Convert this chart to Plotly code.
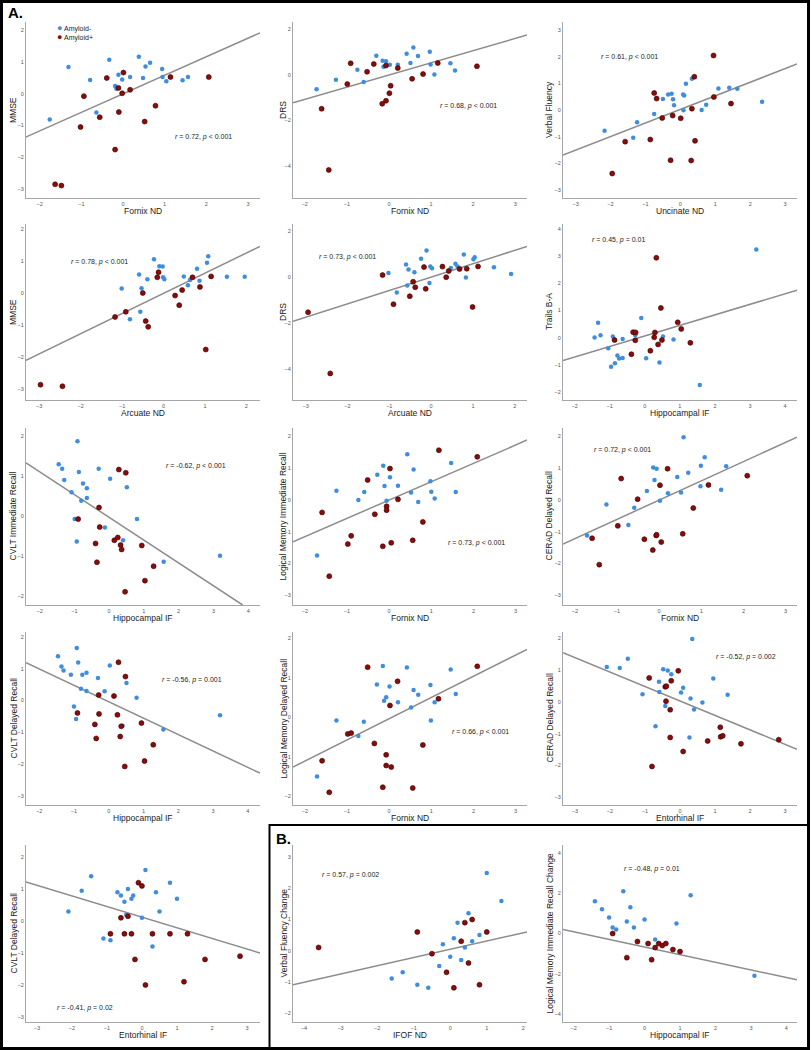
import plotly.graph_objects as go

W, H = 811, 1050
BLUE = '#3f8ddd'
RED = '#8a0b0b'
LINE = '#8c8c8c'
FONT = 'Liberation Sans, Arial, sans-serif'

# ---------------- data ----------------
# Panel 1: MMSE vs Fornix ND
P1_NEG_X = [-1.76, -1.31, -0.79, -0.64, -0.33, -0.19, -0.16, -0.11, -0.02, 0.17, 0.38, 0.48, 0.54, 0.65, 0.94, 0.95, 1.04, 1.43, 1.56]
P1_NEG_Y = [-0.81, 0.84, 0.43, -0.59, 1.06, 0.24, 0.15, 0.59, 0.44, 0.52, 1.16, 0.49, 0.85, 0.97, 0.77, 0.52, 0.39, 0.42, 0.52]
P1_POS_X = [-1.63, -1.48, -1.02, -0.94, -0.56, -0.39, -0.19, -0.11, -0.10, -0.02, 0.01, 0.17, 0.52, 0.78, 1.14, 2.06]
P1_POS_Y = [-2.85, -2.89, -1.05, -0.08, -0.74, 0.49, -1.76, 0.18, -0.58, 0.01, 0.66, 0.12, -0.88, -0.38, 0.52, 0.52]
P1_FIT_X = [-2.34, 3.29]
P1_FIT_Y = [-1.37, 1.91]

# Panel 2: DRS vs Fornix ND
P2_NEG_X = [-1.72, -1.26, -0.75, -0.60, -0.30, -0.15, -0.13, -0.07, 0.02, 0.21, 0.42, 0.51, 0.58, 0.69, 0.97, 0.99, 1.08, 1.46, 1.57]
P2_NEG_Y = [-0.64, -0.22, 0.22, -0.32, 0.83, 0.61, 0.35, 0.59, 0.44, 0.44, 0.92, 0.51, 1.19, 0.82, 1.01, 0.45, 0.01, 0.50, 0.18]
P2_POS_X = [-1.60, -1.43, -0.99, -0.91, -0.52, -0.36, -0.16, -0.07, -0.07, 0.01, 0.04, 0.21, 0.55, 0.81, 1.16, 2.09]
P2_POS_Y = [-1.49, -4.17, -0.41, 0.50, 0.13, 0.47, -1.27, -1.14, 0.40, -0.81, -0.48, 0.29, -0.18, 0.03, 0.51, 0.37]
P2_FIT_X = [-2.28, 3.28]
P2_FIT_Y = [-1.23, 1.74]

# Panel 3: Verbal Fluency vs Uncinate ND
P3_NEG_X = [-2.17, -1.35, -1.24, -0.75, -0.50, -0.35, -0.25, -0.21, -0.18, 0.08, 0.11, 0.09, 0.16, 0.33, 0.61, 0.74, 1.09, 1.40, 1.63, 2.34]
P3_NEG_Y = [-0.78, -1.04, -0.46, -0.15, 0.41, 0.58, 0.61, 0.40, 0.18, 0.58, 0.55, -0.01, 0.99, 1.18, 0.00, 0.20, 0.81, 0.84, 0.80, 0.31]
P3_POS_X = [-1.95, -1.58, -0.86, -0.75, -0.68, -0.52, -0.28, -0.22, 0.01, 0.31, 0.33, 0.40, 0.42, 0.95, 0.96, 1.45]
P3_POS_Y = [-2.39, -1.19, -1.11, 0.64, 0.43, -0.30, -1.89, -0.21, -0.31, -1.90, 0.05, 1.25, -1.16, 2.05, 0.49, 0.24]
P3_FIT_X = [-3.36, 3.34]
P3_FIT_Y = [-1.69, 1.73]

# Panel 4: MMSE vs Arcuate ND
P4_NEG_X = [-1.01, -0.81, -0.59, -0.56, -0.53, -0.39, -0.23, -0.10, -0.02, -0.01, 0.02, 0.49, 0.59, 0.64, 0.81, 0.87, 1.05, 1.08, 1.53, 1.96]
P4_NEG_Y = [0.14, -0.82, 0.58, -0.59, 0.15, 0.43, 1.06, 0.84, 0.83, 0.49, 0.43, 0.52, 0.24, 0.41, 0.76, 0.38, 0.95, 1.15, 0.51, 0.51]
P4_POS_X = [-2.97, -2.44, -1.17, -0.91, -0.50, -0.43, -0.37, -0.15, -0.12, 0.28, 0.38, 0.45, 0.70, 0.88, 1.02, 1.15]
P4_POS_Y = [-2.87, -2.92, -0.75, -0.59, 0.00, -0.88, -1.06, 0.49, 0.65, -0.08, -0.38, 0.09, 0.49, 0.19, -1.77, 0.52]
P4_FIT_X = [-3.32, 2.33]
P4_FIT_Y = [-2.11, 1.46]

# Panel 5: DRS vs Arcuate ND
P5_NEG_X = [-1.02, -0.82, -0.60, -0.57, -0.54, -0.40, -0.24, -0.11, -0.04, -0.02, 0.02, 0.47, 0.58, 0.63, 0.78, 0.83, 1.01, 1.04, 1.50, 1.91]
P5_NEG_Y = [0.19, -0.66, 0.56, -0.35, 0.34, 0.22, 0.81, 1.17, -0.25, 0.48, 0.40, 0.41, 0.60, 0.47, 1.00, 0.00, 0.79, 0.88, 0.44, 0.15]
P5_POS_X = [-2.94, -2.41, -1.16, -0.90, -0.51, -0.43, -0.38, -0.17, -0.13, 0.27, 0.36, 0.42, 0.68, 0.85, 0.99, 1.12]
P5_POS_Y = [-1.52, -4.19, 0.10, -1.17, -0.82, -0.19, -0.43, 0.45, -0.50, 0.47, 0.01, 0.28, 0.37, 0.38, -1.29, 0.48]
P5_FIT_X = [-3.30, 2.29]
P5_FIT_Y = [-1.92, 1.35]

# Panel 6: Trails B-A vs Hippocampal IF
P6_NEG_X = [-1.43, -1.33, -1.26, -1.04, -0.96, -0.91, -0.85, -0.78, -0.73, -0.63, -0.63, -0.27, -0.10, 0.04, 0.42, 0.52, 0.82, 1.57, 3.18]
P6_NEG_Y = [0.00, 0.55, 0.09, -0.39, -1.07, 0.04, -0.94, -0.66, -0.77, -0.75, -0.05, 0.09, 0.72, -0.76, -0.91, 0.04, -0.07, -1.74, 3.23]
P6_POS_X = [-0.86, -0.38, -0.33, -0.26, -0.27, 0.16, 0.27, 0.29, 0.33, 0.38, 0.46, 0.49, 0.94, 1.04, 1.30]
P6_POS_Y = [-0.09, -0.61, 0.20, 0.19, -0.10, -0.48, 0.01, 0.19, 2.93, -0.25, 1.09, -0.09, 0.56, 0.32, -0.19]
P6_FIT_X = [-2.33, 4.34]
P6_FIT_Y = [-0.84, 1.74]

# Panel 7: CVLT Immediate Recall vs Hippocampal IF
P7_NEG_X = [-1.45, -1.35, -1.29, -1.08, -0.99, -0.93, -0.91, -0.87, -0.80, -0.75, -0.64, -0.64, -0.30, -0.12, 0.03, 0.40, 0.51, 0.80, 1.57, 3.19]
P7_NEG_Y = [1.29, 1.18, 0.90, 0.59, -0.08, -0.64, 1.87, 1.10, 0.38, 0.81, 0.69, 0.45, 1.18, -0.29, 0.93, -0.61, 0.72, -0.08, -1.15, -1.00]
P7_POS_X = [-0.89, -0.39, -0.35, -0.29, -0.27, 0.15, 0.25, 0.28, 0.33, 0.36, 0.46, 0.48, 0.94, 1.03, 1.28]
P7_POS_Y = [-0.08, -0.69, -1.16, 0.21, -0.28, -0.61, -0.54, 1.16, -0.73, -0.84, -1.90, 1.08, -0.74, -1.62, -1.26]
P7_FIT_X = [-2.39, 3.84]
P7_FIT_Y = [1.33, -2.23]

# Panel 8: Logical Memory Immediate Recall vs Fornix ND
P8_NEG_X = [-1.71, -1.25, -0.73, -0.59, -0.28, -0.14, -0.11, -0.06, 0.02, 0.21, 0.43, 0.52, 0.58, 0.69, 0.98, 1.00, 1.08, 1.47, 1.58]
P8_NEG_Y = [-1.75, 0.29, 0.00, 0.25, 0.80, 1.08, 0.44, -0.02, 0.72, 0.45, 1.44, 0.24, 0.96, -0.06, 0.59, 0.26, 0.05, 1.17, 0.25]
P8_POS_X = [-1.59, -1.42, -0.98, -0.90, -0.51, -0.34, -0.15, -0.06, -0.06, 0.02, 0.05, 0.21, 0.56, 0.80, 1.18, 2.09]
P8_POS_Y = [-0.39, -2.40, -1.39, -1.13, 0.63, -0.45, -1.46, -0.20, -0.32, 0.99, -1.35, 0.02, -1.27, -0.69, 1.57, 1.36]
P8_FIT_X = [-2.28, 3.27]
P8_FIT_Y = [-1.32, 1.89]

# Panel 9: CERAD Delayed Recall vs Fornix ND
P9_NEG_X = [-1.71, -1.25, -0.73, -0.59, -0.29, -0.14, -0.11, -0.06, 0.02, 0.21, 0.43, 0.52, 0.58, 0.69, 0.98, 0.99, 1.08, 1.47, 1.59]
P9_NEG_Y = [-1.12, -0.15, -0.79, -0.25, 0.28, 1.02, 0.62, 0.98, -0.03, 0.21, 0.72, 0.23, 1.97, 0.85, 0.43, 1.07, 1.34, 0.32, 1.06]
P9_POS_X = [-1.59, -1.42, -0.98, -0.90, -0.51, -0.35, -0.15, -0.07, -0.06, 0.02, 0.05, 0.20, 0.56, 0.81, 1.17, 2.09]
P9_POS_Y = [-1.21, -2.04, -0.82, 0.67, 0.02, -1.24, -1.58, -1.12, -1.10, 0.46, -1.33, 0.98, -1.07, -0.26, 0.47, 0.76]
P9_FIT_X = [-2.28, 3.27]
P9_FIT_Y = [-1.39, 1.97]

# Panel 10: CVLT Delayed Recall vs Hippocampal IF
P10_NEG_X = [-1.46, -1.36, -1.30, -1.09, -1.00, -0.94, -0.92, -0.88, -0.80, -0.76, -0.64, -0.64, -0.31, -0.12, 0.03, 0.40, 0.51, 0.80, 1.57, 3.20]
P10_NEG_Y = [1.39, 1.07, 0.94, 0.81, -0.19, -0.58, 1.65, 1.19, 0.37, 0.81, 0.87, 0.30, 0.71, 0.29, 1.10, -0.79, 0.55, 0.09, -0.91, -0.46]
P10_POS_X = [-0.90, -0.40, -0.36, -0.29, -0.28, 0.15, 0.25, 0.28, 0.33, 0.36, 0.46, 0.48, 0.94, 1.03, 1.28]
P10_POS_Y = [-0.39, -0.75, -1.19, 0.17, -0.42, 0.14, -0.45, 1.20, -1.13, -0.81, -2.07, 0.75, -0.71, -1.90, -1.39]
P10_FIT_X = [-2.38, 4.35]
P10_FIT_Y = [1.19, -2.28]

# Panel 11: Logical Memory Delayed Recall vs Fornix ND
P11_NEG_X = [-1.71, -1.25, -0.73, -0.60, -0.29, -0.15, -0.12, -0.07, 0.01, 0.21, 0.42, 0.52, 0.58, 0.69, 0.98, 0.99, 1.08, 1.46, 1.58]
P11_NEG_Y = [-1.50, -0.08, -0.47, -0.11, 0.83, 1.30, 0.42, 0.51, 0.78, 0.38, 1.26, 0.25, 0.69, 0.57, 0.82, -0.08, 0.38, 1.21, 0.59]
P11_POS_X = [-1.59, -1.42, -0.98, -0.90, -0.51, -0.35, -0.15, -0.07, -0.07, 0.02, 0.05, 0.20, 0.56, 0.80, 1.17, 2.09]
P11_POS_Y = [-1.10, -1.90, -0.42, -0.40, 1.27, -0.66, -1.77, -0.95, -1.22, 0.30, -1.26, 0.91, -1.79, -0.70, 0.47, 1.29]
P11_FIT_X = [-2.28, 3.27]
P11_FIT_Y = [-1.26, 1.72]

# Panel 12: CERAD Delayed Recall vs Entorhinal IF
P12_NEG_X = [-2.09, -1.72, -1.49, -1.07, -0.70, -0.60, -0.59, -0.48, -0.42, -0.35, -0.25, 0.03, 0.09, 0.27, 0.30, 0.35, 0.40, 0.64, 0.95, 1.36]
P12_NEG_Y = [1.09, 1.06, 1.35, 0.24, -0.77, 0.63, 0.31, 1.02, -0.13, 0.98, 0.86, 0.29, 0.44, -1.12, 0.10, 1.97, -0.24, -0.02, 0.73, 0.22]
P12_POS_X = [-0.88, -0.80, -0.42, -0.39, -0.40, -0.28, -0.28, -0.25, -0.05, 0.09, 0.79, 1.15, 1.16, 1.22, 1.74, 2.82]
P12_POS_Y = [0.75, -2.03, 0.47, 0.49, 0.02, -0.25, -1.12, 0.66, 0.97, -1.56, -1.23, -0.80, -1.10, -1.07, -1.32, -1.19]
P12_FIT_X = [-3.34, 3.34]
P12_FIT_Y = [1.54, -1.49]

# Panel 13: CVLT Delayed Recall vs Entorhinal IF
P13_NEG_X = [-2.10, -1.72, -1.45, -1.10, -0.90, -0.70, -0.60, -0.50, -0.45, -0.40, -0.30, -0.25, 0.00, 0.10, 0.30, 0.40, 0.50, 0.80, 1.00]
P13_NEG_Y = [0.30, 0.95, 1.40, -0.55, -0.60, 0.90, 0.80, 0.60, 0.20, 1.00, 0.70, 0.80, 0.10, 1.60, -0.80, 0.90, 0.30, 1.20, 0.70]
P13_POS_X = [-0.90, -0.60, -0.50, -0.40, -0.30, -0.20, -0.10, 0.00, 0.10, 0.30, 0.80, 1.20, 1.30, 1.80, 2.80]
P13_POS_Y = [-0.40, 0.10, -0.40, 0.15, -0.40, -1.20, 1.20, 1.10, -2.00, -0.40, -0.40, -1.90, -0.40, -1.20, -1.10]
P13_FIT_X = [-3.31, 3.37]
P13_FIT_Y = [1.22, -1.00]

# Panel 14 (B): Verbal Fluency Change vs IFOF ND
P14_NEG_X = [-1.6, -1.3, -0.9, -0.6, -0.3, -0.2, 0.0, 0.1, 0.2, 0.3, 0.4, 0.5, 0.6, 0.8, 1.0, 1.4]
P14_NEG_Y = [-0.9, -0.7, -1.1, -1.2, -0.5, 0.2, -0.2, 0.4, 0.9, -0.3, 0.1, 1.2, 0.3, 0.5, 2.5, 1.6]
P14_POS_X = [-3.6, -0.9, -0.5, -0.1, 0.1, 0.3, 0.4, 0.5, 0.6, 0.8, 1.0]
P14_POS_Y = [0.1, 0.6, -0.1, -0.7, -1.2, 0.3, 0.9, -0.4, 1.0, -1.1, 0.6]
P14_FIT_X = [-4.3, 2.1]
P14_FIT_Y = [-1.1, 0.6]

# Panel 15 (B): Logical Memory Immediate Recall Change vs Hippocampal IF
P15_NEG_X = [-1.4, -1.2, -1.0, -0.9, -0.8, -0.6, -0.5, -0.4, -0.3, 0.0, 0.3, 0.9, 1.3, 3.1]
P15_NEG_Y = [1.6, 1.2, 0.8, 0.3, 0.2, 2.1, 0.6, 1.3, 0.3, 0.7, -0.3, 0.5, 1.9, -2.1]
P15_POS_X = [-0.9, -0.5, -0.2, 0.1, 0.2, 0.3, 0.4, 0.5, 0.6, 0.8, 1.0]
P15_POS_Y = [0.0, -1.2, -0.4, -0.5, -1.3, -0.7, -0.5, -0.6, -0.5, -0.8, -0.9]
P15_FIT_X = [-2.3, 4.3]
P15_FIT_Y = [0.2, -2.3]

X_TITLES = ['Fornix ND', 'Fornix ND', 'Uncinate ND',
            'Arcuate ND', 'Arcuate ND', 'Hippocampal IF',
            'Hippocampal IF', 'Fornix ND', 'Fornix ND',
            'Hippocampal IF', 'Fornix ND', 'Entorhinal IF',
            'Entorhinal IF', 'IFOF ND', 'Hippocampal IF']
Y_TITLES = ['MMSE', 'DRS', 'Verbal Fluency',
            'MMSE', 'DRS', 'Trails B-A',
            'CVLT Immediate Recall', 'Logical Memory Immediate Recall', 'CERAD Delayed Recall',
            'CVLT Delayed Recall', 'Logical Memory Delayed Recall', 'CERAD Delayed Recall',
            'CVLT Delayed Recall', 'Verbal Fluency Change', 'Logical Memory Immediate Recall Change']
STATS = ['r = 0.72, p < 0.001', 'r = 0.68, p < 0.001', 'r = 0.61, p < 0.001',
         'r = 0.78, p < 0.001', 'r = 0.73, p < 0.001', 'r = 0.45, p = 0.01',
         'r = -0.62, p < 0.001', 'r = 0.73, p < 0.001', 'r = 0.72, p < 0.001',
         'r = -0.56, p = 0.001', 'r = 0.66, p < 0.001', 'r = -0.52, p = 0.002',
         'r = -0.41, p = 0.02', 'r = 0.57, p = 0.002', 'r = -0.48, p = 0.01']
STAT_X = [1.19, 1.17, -2.34, -2.29, -2.73, -1.57, 1.57, 1.34, -1.59, 1.46, 1.44, 0.98, -2.49, -3.56, -0.64]
STAT_Y = [-1.37, -1.35, 1.98, 0.98, 0.87, 3.58, 1.25, -1.34, 1.58, 0.64, -0.38, 1.42, -2.72, 2.44, 3.2]

X_TICKS = [[-2, -1, 0, 1, 2, 3], [-2, -1, 0, 1, 2, 3], [-3, -2, -1, 0, 1, 2, 3],
           [-3, -2, -1, 0, 1, 2], [-3, -2, -1, 0, 1, 2], [-2, -1, 0, 1, 2, 3, 4],
           [-2, -1, 0, 1, 2, 3, 4], [-2, -1, 0, 1, 2, 3], [-2, -1, 0, 1, 2, 3],
           [-2, -1, 0, 1, 2, 3, 4], [-2, -1, 0, 1, 2, 3], [-3, -2, -1, 0, 1, 2, 3],
           [-3, -2, -1, 0, 1, 2, 3], [-4, -3, -2, -1, 0, 1, 2], [-2, -1, 0, 1, 2, 3, 4]]
Y_TICKS = [[-3, -2, -1, 0, 1, 2], [-4, -2, 0, 2], [-3, -2, -1, 0, 1, 2, 3],
           [-3, -2, -1, 0, 1, 2], [-4, -2, 0, 2], [-2, -1, 0, 1, 2, 3, 4],
           [-2, -1, 0, 1, 2], [-3, -2, -1, 0, 1, 2], [-3, -2, -1, 0, 1, 2],
           [-3, -2, -1, 0, 1, 2], [-2, -1, 0, 1, 2], [-3, -2, -1, 0, 1, 2],
           [-3, -2, -1, 0, 1, 2], [-2, -1, 0, 1, 2, 3], [-4, -2, 0, 2, 4]]

# ---------------- layout (pixel geometry) ----------------
X_RANGES = [[-2.33, 3.29], [-2.28, 3.28], [-3.36, 3.34],
            [-3.32, 2.33], [-3.30, 2.29], [-2.33, 4.34],
            [-2.39, 4.34], [-2.28, 3.27], [-2.28, 3.27],
            [-2.38, 4.35], [-2.28, 3.27], [-3.34, 3.34],
            [-3.31, 3.37], [-4.3, 2.1], [-2.3, 4.3]]
Y_RANGES = [[-3.28, 2.25], [-5.4, 2.31], [-3.31, 3.31],
            [-3.35, 2.16], [-5.35, 2.33], [-2.29, 4.17],
            [-2.23, 2.2], [-3.31, 2.27], [-3.31, 2.26],
            [-3.28, 2.15], [-2.22, 2.16], [-3.24, 2.19],
            [-3.16, 2.38], [-2.3, 3.4], [-4.4, 4.4]]
COLS = [(26, 260), (293, 527), (563, 797)]
ROWS = [(22, 198), (224, 400), (428, 605), (632, 805), (845, 1022)]
YT_OFF = [13, 10, 14]

data = [
    (P1_NEG_X, P1_NEG_Y, P1_POS_X, P1_POS_Y, P1_FIT_X, P1_FIT_Y),
    (P2_NEG_X, P2_NEG_Y, P2_POS_X, P2_POS_Y, P2_FIT_X, P2_FIT_Y),
    (P3_NEG_X, P3_NEG_Y, P3_POS_X, P3_POS_Y, P3_FIT_X, P3_FIT_Y),
    (P4_NEG_X, P4_NEG_Y, P4_POS_X, P4_POS_Y, P4_FIT_X, P4_FIT_Y),
    (P5_NEG_X, P5_NEG_Y, P5_POS_X, P5_POS_Y, P5_FIT_X, P5_FIT_Y),
    (P6_NEG_X, P6_NEG_Y, P6_POS_X, P6_POS_Y, P6_FIT_X, P6_FIT_Y),
    (P7_NEG_X, P7_NEG_Y, P7_POS_X, P7_POS_Y, P7_FIT_X, P7_FIT_Y),
    (P8_NEG_X, P8_NEG_Y, P8_POS_X, P8_POS_Y, P8_FIT_X, P8_FIT_Y),
    (P9_NEG_X, P9_NEG_Y, P9_POS_X, P9_POS_Y, P9_FIT_X, P9_FIT_Y),
    (P10_NEG_X, P10_NEG_Y, P10_POS_X, P10_POS_Y, P10_FIT_X, P10_FIT_Y),
    (P11_NEG_X, P11_NEG_Y, P11_POS_X, P11_POS_Y, P11_FIT_X, P11_FIT_Y),
    (P12_NEG_X, P12_NEG_Y, P12_POS_X, P12_POS_Y, P12_FIT_X, P12_FIT_Y),
    (P13_NEG_X, P13_NEG_Y, P13_POS_X, P13_POS_Y, P13_FIT_X, P13_FIT_Y),
    (P14_NEG_X, P14_NEG_Y, P14_POS_X, P14_POS_Y, P14_FIT_X, P14_FIT_Y),
    (P15_NEG_X, P15_NEG_Y, P15_POS_X, P15_POS_Y, P15_FIT_X, P15_FIT_Y),
]

fig = go.Figure()
annotations = []
layout_axes = {}

for i, (nx, ny, px_, py_, fx, fy) in enumerate(data):
    r, c = divmod(i, 3)
    n = i + 1
    xa = 'x' if n == 1 else f'x{n}'
    ya = 'y' if n == 1 else f'y{n}'
    x0, x1 = COLS[c]
    y0, y1 = ROWS[r]
    common = dict(showline=True, linecolor='#a6a6a6', linewidth=1.2, showgrid=False,
                  zeroline=False, ticks='', tickfont=dict(size=5.5, color='#555', family=FONT))
    layout_axes['xaxis' if n == 1 else f'xaxis{n}'] = dict(
        domain=[x0 / W, x1 / W], range=X_RANGES[i], tickvals=X_TICKS[i],
        anchor=ya, **common)
    layout_axes['yaxis' if n == 1 else f'yaxis{n}'] = dict(
        domain=[1 - y1 / H, 1 - y0 / H], range=Y_RANGES[i], tickvals=Y_TICKS[i],
        anchor=xa, **common)

    fig.add_trace(go.Scatter(x=fx, y=fy, mode='lines', line=dict(color=LINE, width=1.5),
                             xaxis=xa, yaxis=ya, showlegend=False, hoverinfo='skip'))
    fig.add_trace(go.Scatter(x=nx, y=ny, mode='markers', name='Amyloid-',
                             marker=dict(color=BLUE, size=4.5, line=dict(width=0)),
                             xaxis=xa, yaxis=ya, showlegend=False))
    fig.add_trace(go.Scatter(x=px_, y=py_, mode='markers', name='Amyloid+',
                             marker=dict(color=RED, size=5, line=dict(width=0.6, color='#3a0000')),
                             xaxis=xa, yaxis=ya, showlegend=False))

    # axis titles
    annotations.append(dict(text=X_TITLES[i], xref='paper', yref='paper',
                            x=(x0 + x1) / 2 / W, y=1 - (y1 + 13) / H, showarrow=False,
                            xanchor='center', yanchor='middle',
                            font=dict(size=8.5, color='#222', family=FONT)))
    annotations.append(dict(text=Y_TITLES[i], xref='paper', yref='paper',
                            x=(x0 - YT_OFF[c]) / W, y=1 - (y0 + y1) / 2 / H, showarrow=False,
                            textangle=-90, xanchor='center', yanchor='middle',
                            font=dict(size=8.5, color='#222', family=FONT)))
    # statistic
    txt = STATS[i].replace('r =', '<i>r</i> =').replace(', p', ', <i>p</i>')
    annotations.append(dict(text=txt, xref=xa, yref=ya, x=STAT_X[i], y=STAT_Y[i],
                            showarrow=False, xanchor='left', yanchor='middle',
                            font=dict(size=7, color='#222', family=FONT)))

# legend (panel 1)
annotations.append(dict(
    text=(f"<span style='color:{BLUE};font-size:9px'>●</span> Amyloid-<br>"
          f"<span style='color:{RED};font-size:9px'>●</span> Amyloid+"),
    xref='paper', yref='paper', x=55 / W, y=1 - 32.5 / H, showarrow=False,
    xanchor='left', yanchor='middle', align='left',
    font=dict(size=7, color='#222', family=FONT)))
# panel labels
annotations.append(dict(text='<b>A.</b>', xref='paper', yref='paper', x=6 / W, y=1 - 12 / H,
                        showarrow=False, xanchor='left', yanchor='middle',
                        font=dict(size=15, color='#000', family=FONT)))
annotations.append(dict(text='<b>B.</b>', xref='paper', yref='paper', x=274 / W, y=1 - 838 / H,
                        showarrow=False, xanchor='left', yanchor='middle',
                        font=dict(size=15, color='#000', family=FONT)))

shapes = [
    dict(type='rect', xref='paper', yref='paper', x0=1.5 / W, x1=1 - 2.5 / W, y0=1.5 / H, y1=1 - 1.5 / H,
         line=dict(color='#000', width=3)),
    dict(type='rect', xref='paper', yref='paper', x0=269.5 / W, x1=1 - 2.5 / W, y0=1.5 / H, y1=1 - 825 / H,
         line=dict(color='#000', width=2)),
]

fig.update_layout(width=W, height=H, margin=dict(l=0, r=0, t=0, b=0),
                  paper_bgcolor='white', plot_bgcolor='white', showlegend=False,
                  annotations=annotations, shapes=shapes, font=dict(family=FONT),
                  **layout_axes)

fig.write_html('out.html', config={'displayModeBar': False},
               post_script="document.body.style.margin='0';document.body.style.padding='0';"
                           "document.body.style.overflow='hidden';")
